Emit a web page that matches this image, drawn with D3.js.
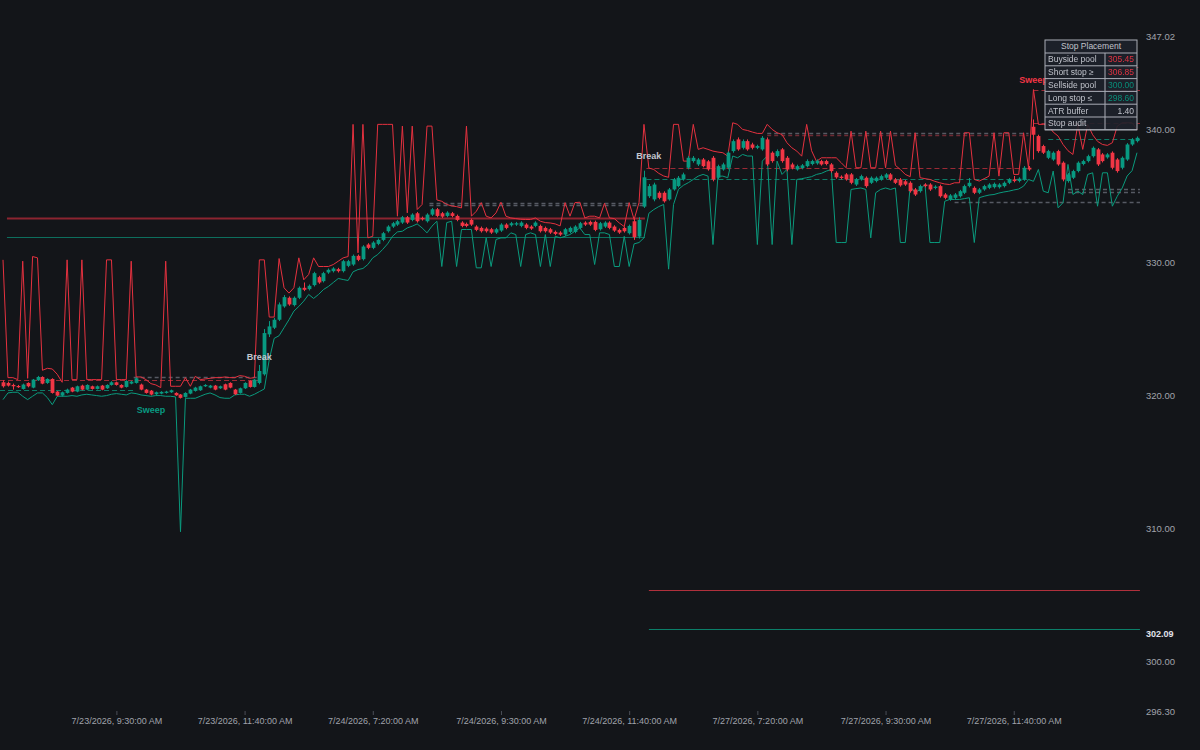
<!DOCTYPE html>
<html>
<head>
<meta charset="utf-8">
<script src="https://d3js.org/d3.v7.min.js"></script>
<style>
  body { margin: 0; background: #131519; }
  svg { display: block; }
  text { font-family: "Liberation Sans", Arial, sans-serif; }
</style>
</head>
<body>
<div id="chart"></div>
<script>
// 5 minute bars, session gaps collapsed (7/23, 7/24, 7/27)
var opens = [
  321.00,320.95,320.80,320.72,320.50,320.95,320.60,321.15,321.40,320.95,
  321.25,320.30,320.00,320.20,320.60,320.30,320.75,320.45,320.70,320.50,
  320.75,320.55,320.80,321.00,320.80,320.65,320.90,320.95,320.83,320.45,
  320.37,320.10,320.15,320.20,320.25,320.20,320.08,319.90,320.15,320.35,
  320.40,320.70,320.60,320.75,320.55,320.85,320.95,320.45,320.20,320.55,
  321.10,320.65,320.95,321.60,324.60,325.10,325.70,326.70,327.35,326.80,
  327.35,328.10,328.00,328.30,328.90,328.60,329.25,329.35,329.50,329.35,
  329.75,329.85,330.50,330.25,331.35,331.10,331.40,331.70,332.35,332.70,
  332.85,333.00,333.40,333.20,333.70,333.35,333.10,333.60,334.00,333.70,
  333.50,333.70,333.50,333.00,332.90,333.20,332.70,332.60,332.55,332.50,
  332.25,332.40,332.85,332.80,332.85,332.75,332.85,332.70,332.75,332.75,
  332.60,332.50,332.30,332.25,332.10,332.30,332.30,332.60,333.00,333.05,
  333.05,332.50,332.70,333.00,332.70,332.45,332.60,332.20,333.10,331.95,
  334.20,334.98,334.74,335.24,335.24,334.74,335.49,335.74,336.24,337.12,
  337.62,337.37,337.74,337.60,337.87,336.37,336.99,337.12,338.37,339.25,
  338.62,339.12,338.87,338.62,338.50,339.25,338.25,338.00,338.50,337.87,
  337.37,336.99,337.10,337.24,337.40,337.45,337.62,337.62,337.37,336.74,
  336.45,336.62,336.62,335.86,336.24,336.37,335.99,336.12,336.24,336.37,
  336.62,336.24,336.24,336.10,335.99,335.49,335.36,335.86,335.86,335.60,
  335.74,335.11,334.74,334.86,334.98,335.24,335.74,335.61,335.24,335.49,
  335.61,335.66,335.66,335.74,335.99,336.24,336.12,336.24,337.12,340.20,
  339.50,338.75,337.87,337.74,338.37,337.50,336.12,336.37,336.87,337.40,
  337.62,337.99,338.50,338.12,337.90,338.25,337.74,337.12,337.74,338.87,
  339.12
];
var highs = [
  321.15,321.05,320.90,320.80,320.90,321.00,321.25,321.48,321.45,321.30,
  321.30,320.35,320.30,320.52,320.65,320.75,320.82,320.85,320.75,320.76,
  320.80,320.85,321.08,321.05,320.85,321.15,321.12,321.36,320.90,320.50,
  320.42,320.30,320.33,320.36,320.45,320.25,320.12,320.25,320.50,320.66,
  320.75,320.86,320.80,320.80,320.75,320.90,321.00,320.50,320.60,321.00,
  321.15,321.25,322.30,325.00,325.60,325.85,327.00,327.55,327.45,327.45,
  328.20,328.50,328.35,329.30,329.00,329.30,329.55,329.65,329.60,330.20,
  330.20,330.60,330.60,331.30,331.45,331.60,331.80,332.30,332.80,333.05,
  333.20,333.50,333.50,333.70,333.80,333.45,333.70,334.10,334.10,333.80,
  333.85,333.80,333.60,333.10,333.00,333.30,332.80,332.70,332.65,332.60,
  332.60,332.95,332.95,333.05,333.05,333.10,332.95,332.80,333.10,332.85,
  332.70,332.60,332.40,332.35,332.60,332.70,332.80,333.05,333.10,333.15,
  333.15,333.05,333.10,333.10,332.80,332.55,332.70,332.85,333.30,333.40,
  336.90,335.90,336.00,335.35,335.35,335.60,336.35,336.50,336.75,338.00,
  338.00,337.85,337.85,337.70,338.00,337.35,337.50,338.35,339.25,339.40,
  339.25,339.25,339.00,338.85,339.50,339.40,338.35,338.50,338.60,338.00,
  337.50,337.35,337.40,337.75,337.72,337.75,337.72,337.72,337.47,336.85,
  336.55,336.72,336.72,336.35,336.60,336.47,336.47,336.47,336.60,336.72,
  336.72,336.35,336.35,336.20,336.10,335.60,335.85,335.96,335.96,335.80,
  335.85,335.22,335.14,335.22,335.46,335.85,336.35,335.72,335.60,335.84,
  335.96,336.01,335.96,336.09,336.34,336.50,336.40,337.25,337.25,340.75,
  339.60,338.85,338.47,338.35,338.47,337.60,336.72,336.97,337.60,337.72,
  338.10,338.72,338.60,338.22,338.22,338.35,337.84,337.97,338.97,339.35,
  339.47
];
var lows = [
  320.60,320.68,320.45,320.58,320.45,320.62,320.55,321.10,320.85,320.88,
  320.15,319.95,319.92,320.15,320.25,320.25,320.40,320.40,320.45,320.46,
  320.40,320.50,320.75,320.75,320.55,320.60,320.85,320.90,320.40,320.15,
  320.02,320.05,320.10,320.15,320.20,319.98,319.78,319.85,320.10,320.30,
  320.35,320.65,320.55,320.40,320.50,320.40,320.55,320.05,320.15,320.50,
  320.60,320.60,320.85,321.50,324.40,325.00,325.60,326.60,326.75,326.70,
  327.25,327.85,327.90,328.20,328.40,328.50,329.15,329.25,329.25,329.25,
  329.65,329.75,330.10,330.15,331.00,331.00,331.30,331.60,332.25,332.60,
  332.75,332.90,332.90,333.10,333.00,333.15,333.00,333.50,333.40,333.35,
  333.40,333.40,333.10,332.65,332.65,332.75,332.35,332.25,332.25,332.15,
  332.15,332.30,332.50,332.70,332.75,332.65,332.50,332.45,332.65,332.25,
  332.25,332.15,332.05,332.00,332.00,332.20,332.20,332.50,332.75,332.75,
  332.35,332.40,332.60,332.50,332.30,332.15,332.25,332.10,331.70,331.80,
  334.10,334.85,334.60,334.75,334.50,334.65,335.40,335.65,336.15,337.00,
  337.50,337.25,337.15,336.90,336.10,336.25,336.90,337.00,338.25,338.40,
  338.50,338.40,338.50,338.52,338.40,337.25,337.50,337.90,337.50,336.85,
  337.00,336.90,337.00,337.15,337.30,337.35,337.28,337.30,336.75,336.30,
  336.25,336.15,335.88,335.75,336.15,335.62,335.90,336.02,336.15,336.28,
  336.15,335.90,335.70,335.76,335.25,335.00,335.25,335.64,335.38,335.50,
  334.88,334.75,334.64,334.76,334.88,335.14,335.64,335.14,335.14,335.39,
  335.51,335.56,335.56,335.64,335.89,336.02,336.02,336.14,336.89,337.74,
  338.25,338.15,337.77,337.64,337.27,336.10,336.00,336.27,336.77,337.30,
  337.52,337.89,337.25,337.52,337.80,337.00,336.75,337.00,337.64,338.77,
  339.02
];
var closes = [
  320.70,320.75,320.70,320.65,320.83,320.70,321.20,321.40,320.90,321.25,
  320.20,320.00,320.25,320.45,320.30,320.70,320.45,320.80,320.50,320.70,
  320.45,320.80,321.00,320.80,320.60,321.10,321.05,321.30,320.45,320.20,
  320.08,320.25,320.28,320.30,320.40,320.02,319.83,320.20,320.45,320.60,
  320.70,320.80,320.75,320.45,320.70,320.45,320.60,320.10,320.55,320.95,
  320.65,321.20,321.85,324.70,325.20,325.70,326.85,327.40,326.85,327.35,
  328.10,327.95,328.25,329.20,328.50,329.20,329.45,329.55,329.35,330.10,
  330.10,330.50,330.20,331.20,331.10,331.50,331.70,332.20,332.70,332.95,
  333.10,333.40,333.00,333.60,333.10,333.25,333.60,334.00,333.50,333.45,
  333.75,333.50,333.20,332.75,332.75,332.85,332.45,332.35,332.35,332.25,
  332.50,332.85,332.60,332.95,332.95,333.00,332.60,332.55,333.00,332.35,
  332.35,332.25,332.15,332.10,332.50,332.60,332.70,332.95,332.85,332.85,
  332.45,332.95,333.00,332.60,332.40,332.25,332.35,332.75,331.90,333.20,
  336.40,335.74,335.86,334.86,334.60,335.49,336.24,336.37,336.62,337.87,
  337.87,337.74,337.24,337.00,336.24,337.24,337.37,338.25,339.12,338.50,
  339.12,338.50,338.62,338.75,339.37,337.37,337.62,338.37,337.62,336.99,
  337.12,337.24,337.30,337.62,337.62,337.65,337.37,337.40,336.87,336.40,
  336.35,336.24,335.99,336.24,336.49,335.74,336.37,336.37,336.49,336.62,
  336.24,335.99,335.80,335.86,335.36,335.11,335.74,335.74,335.49,335.70,
  334.98,334.86,335.04,335.11,335.36,335.74,335.99,335.24,335.49,335.74,
  335.86,335.91,335.86,335.99,336.24,336.12,336.30,337.12,336.99,339.60,
  338.37,338.25,338.37,338.25,337.37,336.24,336.62,336.87,337.50,337.62,
  337.99,338.62,337.37,337.62,338.12,337.12,336.87,337.87,338.87,339.25,
  339.37
];
// liquidity bands drawn above and below the bars
var upperBand = [
  330.20,321.35,321.35,321.20,330.10,321.30,330.45,330.35,321.90,322.05,
  322.00,321.60,321.00,330.20,321.20,321.20,330.20,321.20,321.20,321.20,
  321.20,330.20,330.20,321.20,321.20,321.20,330.10,321.40,321.40,321.20,
  320.90,320.80,320.60,330.10,320.70,320.70,320.70,321.35,320.70,321.45,
  321.20,321.25,321.30,321.35,321.35,321.40,321.35,321.35,321.50,321.45,
  321.30,321.35,330.20,330.20,325.90,325.90,330.30,328.10,327.70,328.10,
  330.35,328.70,329.10,330.35,329.70,329.70,329.70,329.85,330.10,330.35,
  330.45,340.38,330.73,340.38,331.85,331.97,340.38,340.38,340.38,340.38,
  333.48,340.25,333.73,340.25,333.98,334.36,340.25,340.25,334.70,334.60,
  334.36,334.25,334.20,334.10,340.25,333.48,333.85,334.50,333.48,333.35,
  333.73,334.53,333.48,333.35,333.30,333.25,333.23,333.23,333.35,333.10,
  333.00,332.97,332.90,332.75,334.50,333.48,334.50,334.53,333.35,333.48,
  333.48,333.35,334.45,333.35,333.30,332.97,332.70,334.50,333.23,334.50,
  340.38,337.10,336.99,336.70,336.50,336.40,340.38,340.38,337.62,337.62,
  340.38,338.50,338.62,338.50,338.37,338.30,338.25,337.99,340.50,340.38,
  340.00,339.92,339.80,339.70,339.70,340.38,340.00,339.75,339.62,339.00,
  338.62,338.37,337.99,340.38,338.40,337.60,337.87,337.87,337.87,337.87,
  337.50,337.12,339.87,337.12,337.12,339.87,337.12,337.12,339.87,337.12,
  339.87,337.30,336.99,336.62,336.45,339.75,336.37,336.30,336.24,336.10,
  335.99,335.90,335.86,335.99,335.99,339.75,339.75,336.24,336.12,336.30,
  336.49,339.75,336.49,339.75,339.75,336.62,336.62,339.75,337.12,343.00,
  340.38,340.38,340.30,339.80,339.50,338.87,338.40,338.12,340.38,338.50,
  340.38,339.60,339.10,338.87,338.80,339.00,340.25,340.50,340.50,340.50,
  340.00
];
var lowerBand = [
  319.70,320.20,320.25,320.25,319.95,319.70,319.95,320.20,320.20,319.85,
  319.32,319.95,319.95,319.95,320.00,319.95,320.05,320.10,320.05,320.00,
  319.95,320.00,320.10,320.15,320.10,320.05,320.20,320.15,320.05,320.00,
  319.95,320.00,320.00,319.95,319.95,319.90,309.77,319.80,319.80,319.80,
  319.95,320.10,320.20,320.05,319.85,319.80,319.80,320.05,320.10,320.10,
  319.95,320.10,320.30,320.50,322.70,324.30,324.50,325.10,325.70,326.35,
  326.70,327.10,327.60,327.30,327.60,327.97,328.20,328.50,328.80,328.72,
  328.65,329.30,329.47,329.55,329.85,330.35,330.60,330.98,331.40,331.97,
  332.30,332.35,332.60,332.73,332.90,332.60,332.23,332.73,333.10,329.70,
  333.00,333.10,329.70,332.48,332.48,332.48,329.60,329.60,331.85,329.70,
  331.73,331.85,331.85,332.23,332.10,329.70,332.10,332.23,332.10,329.70,
  332.10,329.70,331.97,331.85,331.97,332.10,332.35,332.60,332.10,332.10,
  329.85,332.23,332.23,332.10,329.70,329.70,331.97,329.70,331.40,331.50,
  331.85,333.70,333.98,334.20,334.36,329.50,334.36,335.50,335.80,336.00,
  336.24,336.49,336.62,336.49,331.35,336.49,336.49,336.37,338.00,337.87,
  338.12,338.00,338.00,331.35,337.62,338.00,331.35,337.62,336.62,336.99,
  331.35,336.24,336.30,336.37,336.45,336.62,336.70,336.87,336.99,331.50,
  331.50,331.50,335.49,335.55,335.60,335.49,331.85,335.24,335.49,335.60,
  335.49,335.60,331.50,331.50,335.74,335.24,335.49,335.86,331.50,331.50,
  331.50,334.60,334.74,334.74,334.74,334.80,334.87,331.50,334.87,334.98,
  335.07,335.11,335.22,335.30,335.36,335.45,335.52,335.74,336.24,336.10,
  336.99,335.36,335.24,336.87,334.11,334.50,337.37,335.11,335.36,335.11,
  336.62,336.74,334.23,336.74,336.74,334.23,334.98,335.60,336.50,336.90,
  338.25
];

var tickIndex = [23, 49, 75, 101, 127, 153, 179, 205];
var tickLabels = [
  "7/23/2026, 9:30:00 AM", "7/23/2026, 11:40:00 AM",
  "7/24/2026, 7:20:00 AM", "7/24/2026, 9:30:00 AM",
  "7/24/2026, 11:40:00 AM", "7/27/2026, 7:20:00 AM",
  "7/27/2026, 9:30:00 AM", "7/27/2026, 11:40:00 AM"
];
var priceTicks = [296.30, 300, 310, 320, 330, 340, 347.02];
var lastMark = 302.09;

// horizontal levels: price, from bar, to bar, kind
var levelValues = [333.34, 331.89, 305.40, 302.44, 321.20, 320.40, 321.39,
  334.50, 334.30, 337.12, 336.28, 339.74, 339.55, 339.25, 334.56, 335.50, 335.30,
  342.93, 340.45, 344.66];
var levelFrom = [0.8, 0.8, 131, 131, -0.6, -0.6, 26.5,
  86.5, 86.5, 130.5, 130.5, 155, 155, 212, 193, 216, 216,
  209, 209, 226];
var levelTo = [130.2, 130.2, 230.6, 230.6, 52, 26.5, 52,
  130, 130, 208, 208, 208, 208, 230.6, 230.6, 230.6, 230.6,
  230.6, 230.6, 230.6];
var levelKinds = ["poolHi", "poolLo", "thinHi", "thinLo", "dashHi", "dashLo", "zone",
  "zone", "zone", "dashHi", "dashLo", "zone", "zoneHi", "dashLo", "zone", "zone", "zone",
  "dashHi", "dashHi", "dashHi"];

// event labels
var markText = ["Sweep", "Break", "Break", "Sweep"];
var markIndex = [30, 52, 131, 209];
var markValue = [318.95, 322.90, 338.05, 343.76];
var markKind = ["lo", "na", "na", "hi"];

// stop table
var tableTitle = "Stop Placement";
var tableLabels = ["Buyside pool", "Short stop \u2265", "Sellside pool", "Long stop \u2264", "ATR buffer", "Stop audit"];
var tableValues = ["305.45", "306.85", "300.00", "298.60", "1.40", ""];
var tableKinds = ["hi", "hi", "lo", "lo", "na", "na"];

var W = 1200, H = 750;
var green = "#089981", red = "#f23645";
var kindColor = {hi: red, lo: green, na: "#b2b5be"};

var svg = d3.select("#chart").append("svg")
    .attr("width", W)
    .attr("height", H);
svg.append("rect").attr("width", W).attr("height", H).attr("fill", "#131519");

var x = d3.scaleLinear().domain([0, opens.length - 1]).range([3, 1137]);
var y = d3.scaleLinear().domain([296.30, 347.02]).range([711, 36]);

// levels
var levelStyle = {
  poolHi: {c: "#8c2430", w: 2, d: null},
  poolLo: {c: "#0d6e5d", w: 1, d: null},
  thinHi: {c: "#b0303c", w: 1, d: null},
  thinLo: {c: "#0b7f69", w: 1, d: null},
  dashHi: {c: "#9b2a35", w: 1.2, d: "5,3"},
  dashLo: {c: "#0e7a66", w: 1.2, d: "5,3"},
  zone: {c: "#565a63", w: 1.5, d: "4,3"},
  zoneHi: {c: "#6e2a33", w: 1.5, d: "4,3"}
};
svg.append("g").selectAll("line")
  .data(levelValues)
  .join("line")
    .attr("x1", function(d, i) { return x(levelFrom[i]); })
    .attr("x2", function(d, i) { return x(levelTo[i]); })
    .attr("y1", function(d) { return Math.round(y(d)) + 0.5; })
    .attr("y2", function(d) { return Math.round(y(d)) + 0.5; })
    .attr("stroke", function(d, i) { return levelStyle[levelKinds[i]].c; })
    .attr("stroke-width", function(d, i) { return levelStyle[levelKinds[i]].w; })
    .attr("stroke-dasharray", function(d, i) { return levelStyle[levelKinds[i]].d; });

// bands
var idx = d3.range(opens.length);
var band = function(arr) {
  return d3.line().x(function(i) { return x(i); }).y(function(i) { return y(arr[i]); })(idx);
};
svg.append("path").attr("d", band(upperBand))
  .attr("fill", "none").attr("stroke", "#e5313f").attr("stroke-width", 1);
svg.append("path").attr("d", band(lowerBand))
  .attr("fill", "none").attr("stroke", "#0a9a7d").attr("stroke-width", 1);

// candles
var isUp = function(i) { return closes[i] >= opens[i]; };
var cg = svg.append("g");
cg.selectAll("line")
  .data(idx)
  .join("line")
    .attr("x1", function(i) { return Math.round(x(i)) + 0.5; })
    .attr("x2", function(i) { return Math.round(x(i)) + 0.5; })
    .attr("y1", function(i) { return y(highs[i]); })
    .attr("y2", function(i) { return y(lows[i]); })
    .attr("stroke", function(i) { return isUp(i) ? green : red; });
cg.selectAll("rect")
  .data(idx)
  .join("rect")
    .attr("x", function(i) { return Math.round(x(i)) - 1.4; })
    .attr("width", 3.8)
    .attr("y", function(i) { return y(Math.max(opens[i], closes[i])); })
    .attr("height", function(i) { return Math.max(1.2, Math.abs(y(opens[i]) - y(closes[i]))); })
    .attr("fill", function(i) { return isUp(i) ? green : red; });

// event labels
svg.append("g").selectAll("text")
  .data(markText)
  .join("text")
    .attr("x", function(d, i) { return x(markIndex[i]); })
    .attr("y", function(d, i) { return y(markValue[i]); })
    .attr("dy", "0.35em")
    .attr("text-anchor", "middle")
    .attr("font-size", 9)
    .attr("font-weight", "bold")
    .attr("fill", function(d, i) { return markKind[i] === "na" ? "#c3c6ce" : kindColor[markKind[i]]; })
    .text(function(d) { return d; });

// y axis on the right
var yAxis = svg.append("g")
    .attr("transform", "translate(1140,0)")
    .call(d3.axisRight(y).tickValues(priceTicks).tickFormat(d3.format(".2f")).tickSize(0).tickPadding(6));
yAxis.select(".domain").remove();
yAxis.selectAll("text").attr("fill", "#a0a3ab").attr("font-size", 9.5)
  .attr("font-family", "Liberation Sans, Arial, sans-serif");
svg.append("text")
    .attr("x", 1146)
    .attr("y", y(lastMark))
    .attr("dy", "0.32em")
    .attr("font-size", 9)
    .attr("font-weight", "bold")
    .attr("fill", "#e0e3eb")
    .text(lastMark.toFixed(2));

// x axis
var xAxis = svg.append("g")
    .attr("transform", "translate(0,711)")
    .call(d3.axisBottom(x).tickValues(tickIndex)
      .tickFormat(function(d, i) { return tickLabels[i]; })
      .tickSize(4).tickPadding(3));
xAxis.select(".domain").remove();
xAxis.selectAll("line").attr("stroke", "#4a4e57");
xAxis.selectAll("text").attr("fill", "#a0a3ab").attr("font-size", 9)
  .attr("font-family", "Liberation Sans, Arial, sans-serif");

// table
var tx = 1045, ty = 40, c1 = 60, c2 = 32, hh = 13, rh = 12.8;
var tg = svg.append("g").attr("opacity", 0.92);
tg.append("rect").attr("x", tx).attr("y", ty).attr("width", c1 + c2).attr("height", hh + rh * tableLabels.length)
  .attr("fill", "#1e222b").attr("stroke", "#b8bcc5").attr("stroke-width", 1);
tg.append("line").attr("x1", tx).attr("x2", tx + c1 + c2).attr("y1", ty + hh).attr("y2", ty + hh)
  .attr("stroke", "#b8bcc5");
tg.append("text").attr("x", tx + (c1 + c2) / 2).attr("y", ty + hh / 2).attr("dy", "0.35em")
  .attr("text-anchor", "middle").attr("font-size", 8.5).attr("fill", "#d1d4dc").text(tableTitle);
var rows = tg.selectAll("g.row")
  .data(tableLabels)
  .join("g")
    .attr("class", "row")
    .attr("transform", function(d, i) { return "translate(" + tx + "," + (ty + hh + i * rh) + ")"; });
rows.append("line").attr("x1", 0).attr("x2", c1 + c2).attr("y1", rh).attr("y2", rh).attr("stroke", "#b8bcc5");
rows.append("line").attr("x1", c1).attr("x2", c1).attr("y1", 0).attr("y2", rh).attr("stroke", "#b8bcc5");
rows.append("text").attr("x", 3).attr("y", rh / 2).attr("dy", "0.35em")
  .attr("font-size", 8.5).attr("fill", "#d1d4dc").text(function(d) { return d; });
rows.append("text").attr("x", c1 + c2 - 3).attr("y", rh / 2).attr("dy", "0.35em")
  .attr("text-anchor", "end").attr("font-size", 8.5)
  .attr("fill", function(d, i) { return tableKinds[i] === "na" ? "#d1d4dc" : kindColor[tableKinds[i]]; })
  .text(function(d, i) { return tableValues[i]; });
</script>
</body>
</html>
